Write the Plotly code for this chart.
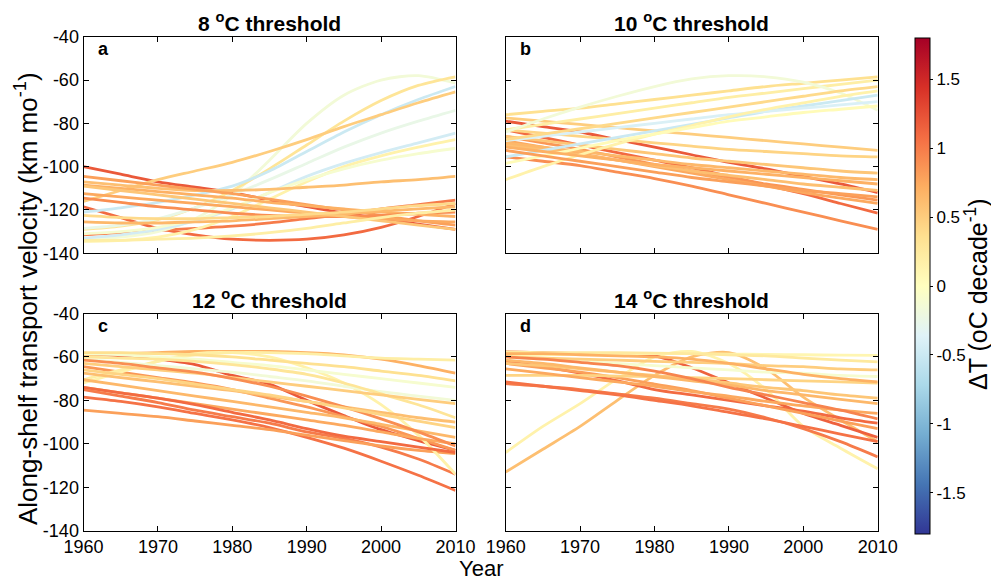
import plotly.graph_objects as go
from plotly.colors import sample_colorscale

# Model years sampled every 5 years
years = [1960, 1965, 1970, 1975, 1980, 1985, 1990, 1995, 2000, 2005, 2010]

# ---- 8 oC threshold: warming trend (oC/decade) and velocity (km/mo) ----
dT_8 = [1.2, 1.1, 1.0, -0.15, 0.3, -0.5, -0.45, 0.5, -0.25, 0.15,
        -0.1, 0.6, 0.8, 0.7, 0.75, 0.9, 0.65, 0.55, 0.4, 0.2]
vel_8 = [
    [-100, -103.5, -107, -109.5, -112, -115.5, -118.5, -121.5, -124, -126.5, -129],
    [-118.5, -123.5, -128.5, -131.5, -133.5, -134, -133.5, -131.5, -128, -123, -117],
    [-131.5, -130.5, -129.5, -128.5, -127.5, -126, -124, -122, -119.5, -117.5, -115.5],
    [-133.5, -132.5, -130, -124, -113, -97, -80, -67, -60, -58, -61.5],
    [-129, -127.5, -124.5, -119, -111, -101, -90, -79, -69.5, -62.5, -58.5],
    [-121, -119, -116.5, -113, -109, -102, -93, -84, -76, -69, -63],
    [-133, -131.5, -129, -125, -119.5, -112, -104.5, -98.5, -93.5, -89, -84.5],
    [-116, -111, -106, -102, -98, -93, -87.5, -81.5, -76, -70.5, -65.5],
    [-128.5, -127, -124, -119, -113, -106, -98.5, -91, -84.5, -79, -74],
    [-134.5, -134, -132.5, -129, -123, -115, -107, -100, -95, -91, -87.5],
    [-131, -130, -128, -124.5, -119, -112, -106, -101, -97, -94, -91.5],
    [-107, -108.5, -110, -111, -111, -110.5, -109.5, -108.5, -107, -106, -104.5],
    [-104.5, -106.5, -108.5, -110.5, -112.5, -115, -117.5, -120, -122.5, -125, -127],
    [-108.5, -110, -111.5, -113, -114.5, -116.5, -118, -119.5, -121, -122, -123],
    [-112.5, -114, -115.5, -117, -118.5, -120, -121.5, -123, -124, -125, -125.5],
    [-114.5, -116.5, -118.5, -120, -121.5, -122.5, -123, -123, -122.5, -121.5, -121],
    [-125.5, -126, -126, -125.5, -125, -124, -123, -122, -120.5, -119.5, -118.5],
    [-109, -111, -113, -115, -117, -119, -121, -123, -125, -127, -129],
    [-122.5, -123.5, -124, -124, -123.5, -123, -122, -121, -119.5, -118, -117],
    [-134, -134, -133.5, -133, -132, -130.5, -128.5, -126, -123.5, -121.5, -120],
]

# ---- 10 oC threshold ----
dT_10 = [1.2, 1.1, 0.9, 0.85, 0.75, 0.6, 0.5, 0.45, 0.55, 0.65,
         0.35, 0.2, -0.15, -0.5, -0.4, 0.15, 0.05, 0.4, 0.7, 0.8]
vel_10 = [
    [-79, -81.5, -84, -87.5, -91, -94.5, -98, -101, -104.5, -108, -112],
    [-83, -86.5, -90, -93.5, -97, -100.5, -104.5, -108.5, -112.5, -117, -121.5],
    [-95.5, -97.5, -99.5, -102.5, -105.5, -109, -113, -117, -121, -125, -129],
    [-86, -89, -92, -95.5, -99, -102, -105, -108, -110.5, -113, -115.5],
    [-88, -91, -94, -97, -100, -103, -106, -109, -112, -114.5, -117],
    [-90, -92, -94.5, -97, -99.5, -102, -104, -106, -108, -109.5, -111],
    [-77.5, -79, -80.5, -82, -83.5, -85, -86.5, -88, -89.5, -91, -92.5],
    [-83, -84.5, -86, -87.5, -89, -90.5, -92, -93, -94, -95, -95.5],
    [-86, -88, -90, -92, -94, -96, -97.5, -99, -100.5, -102, -103],
    [-89, -91, -93, -95, -97, -99, -100.5, -102, -103.5, -105, -106],
    [-76, -74.5, -73, -71, -69, -67, -65, -63, -61.5, -60, -58.5],
    [-83, -80.5, -78, -75.5, -73, -70.5, -68, -66, -64, -62, -60],
    [-84, -78, -72.5, -67.5, -63, -59.5, -58, -58.5, -61, -66, -74],
    [-95.5, -92.5, -89.5, -86.5, -83.5, -80.5, -77.5, -74.5, -72, -69.5, -67],
    [-88, -86, -84, -82, -80, -78, -76, -74.5, -73, -71.5, -70],
    [-106, -100, -94.5, -89.5, -85, -81, -77, -73.5, -70.5, -67.5, -65],
    [-98.5, -95, -91.5, -88, -85, -82, -79, -77, -75, -73.5, -72],
    [-87.5, -85, -82.5, -80, -77.5, -75, -72.5, -70, -67.5, -65, -63],
    [-91, -93, -95, -97, -99, -100.5, -102, -103.5, -105, -106.5, -108],
    [-92.5, -95, -97.5, -100, -102.5, -105, -107, -109, -111, -112.5, -114],
]

# ---- 12 oC threshold ----
dT_12 = [1.2, 1.05, 1.0, 0.8, 0.85, 0.7, 0.15, 0.2, -0.1, -0.15,
         0.3, 0.5, 0.6, 0.65, 0.75, 1.1, 0.9, 0.35, 0.45]
vel_12 = [
    [-58.5, -59.5, -61, -63.5, -68.5, -72.5, -80, -87, -93.5, -98.5, -103],
    [-78.5, -80.5, -83, -86, -89, -92.5, -97, -102, -108, -114.5, -121.5],
    [-75, -78, -81, -84.5, -87.5, -90.5, -94.5, -97.5, -101.5, -107, -114],
    [-84.5, -86, -87.5, -89.5, -91.5, -93.5, -96, -98.5, -101, -103, -104.5],
    [-64.5, -67, -69.5, -72, -75, -79, -83, -87.5, -92, -97.5, -103],
    [-59, -58.5, -58, -57.5, -57.5, -57.5, -58, -59, -61, -64, -67.5],
    [-72, -67, -62, -58.5, -58, -60, -65, -72, -82, -96, -114],
    [-70.5, -66, -62, -59, -58, -58, -58.5, -59.5, -60.5, -61, -61.5],
    [-58.5, -59, -60, -61, -62.5, -64, -66, -68, -70, -72, -74],
    [-61, -62.5, -64, -65.5, -67, -69, -71, -73.5, -76, -78, -80],
    [-60, -60.5, -61, -62, -63.5, -65.5, -68, -72, -77, -82, -88],
    [-63, -64.5, -66, -67.5, -69.5, -71.5, -73.5, -75.5, -77.5, -79.5, -81.5],
    [-67.5, -69.5, -71.5, -73.5, -75.5, -78, -80.5, -83, -85.5, -88, -90],
    [-70.5, -73, -75.5, -78, -80.5, -83, -85.5, -88, -91, -94, -97],
    [-74, -76.5, -79, -81.5, -84, -86.5, -89, -91.5, -94.5, -97.5, -100],
    [-74, -76.5, -79, -82, -85.5, -89, -93, -96.5, -99, -101.5, -104],
    [-61.5, -63, -65, -67, -70, -73.5, -78, -83, -88.5, -94.5, -101],
    [-58, -58, -58.5, -59, -60, -61.5, -63, -64.5, -66.5, -68.5, -71],
    [-66, -68, -70, -72.5, -75, -77.5, -80.5, -83.5, -86.5, -89.5, -92.5],
]

# ---- 14 oC threshold ----
dT_14 = [0.15, 0.6, 1.15, 1.1, 1.0, 1.05, 0.8, 0.1, 0.25, -0.1,
         0.45, 0.55, 0.65, 0.75, 0.5, 0.95, 0.7]
vel_14 = [
    [-104, -92, -81.5, -70, -60, -57.5, -63, -75, -92, -102, -111.5],
    [-113, -102.5, -92, -80, -68.5, -60, -58, -65.5, -78.5, -89, -99],
    [-57.7, -58, -58.5, -59, -59.5, -65, -72, -79, -86, -91.5, -97],
    [-62, -64.5, -67.5, -71, -75, -77.5, -80, -82.5, -85, -88, -90.5],
    [-72.3, -73.5, -75, -77, -79, -81.5, -84, -88, -93, -99, -106],
    [-71.5, -73.5, -75.5, -77.5, -80, -82.5, -85.5, -88.5, -92, -95.5, -99],
    [-63, -65, -67, -69.5, -72.5, -75.5, -79, -82.5, -86, -89.5, -93],
    [-59.2, -59, -58.8, -58.5, -58.5, -58.5, -58.7, -58.8, -59, -59.2, -59.3],
    [-57.7, -58, -58, -58, -58.2, -58.5, -59, -59.5, -60.5, -61.5, -62.3],
    [-60, -61, -62, -63, -64, -65, -66, -67, -67.5, -68.5, -69],
    [-68.5, -68.5, -68.5, -68.8, -69, -69.5, -70, -70.5, -71, -71.5, -72],
    [-63, -64, -65.5, -67, -68.5, -70, -72, -74, -75.5, -77.5, -79],
    [-61.5, -63, -65, -67, -69, -71, -73, -75.5, -77.5, -79.5, -81.5],
    [-65.5, -67.5, -69.5, -71.5, -73.5, -76, -78, -80.5, -82.5, -84.5, -86],
    [-60, -60.5, -61, -61.5, -62, -62.5, -63, -64, -64.5, -65.5, -66],
    [-60, -61, -62.5, -64, -66.5, -70, -74, -77.5, -81, -84.5, -88.5],
    [-58.5, -58.5, -59, -59.5, -60, -61, -63, -65.5, -68, -70, -71.5],
]

panel_titles = ["8 <sup>o</sup>C threshold", "10 <sup>o</sup>C threshold",
                "12 <sup>o</sup>C threshold", "14 <sup>o</sup>C threshold"]
panel_letters = ["a", "b", "c", "d"]
x_ticks = [1960, 1970, 1980, 1990, 2000, 2010]
y_ticks = [-140, -120, -100, -80, -60, -40]
cbar_ticks = [-1.5, -1, -0.5, 0, 0.5, 1, 1.5]

CMIN, CMAX = -1.8, 1.8
CSCALE = "RdYlBu_r"
FONT = "Liberation Sans, Arial, Helvetica, sans-serif"
W, H = 991, 582


def px_x(p):
    return p / W


def px_y(p):
    return 1 - p / H


def trend_color(v):
    return sample_colorscale(CSCALE, [(v - CMIN) / (CMAX - CMIN)])[0]


fig = go.Figure()

panels = [(dT_8, vel_8), (dT_10, vel_10), (dT_12, vel_12), (dT_14, vel_14)]
x_domains = [(83.5, 455.5), (505.7, 877.7)]
y_domains = [(36.7, 253.3), (313.5, 530.7)]

for i, (dts, vels) in enumerate(panels):
    ax = "" if i == 0 else str(i + 1)
    for dt, v in zip(dts, vels):
        fig.add_trace(go.Scatter(
            x=years, y=v, mode="lines",
            line=dict(color=trend_color(dt), width=2.8, shape="spline", smoothing=0.8),
            xaxis="x" + ax, yaxis="y" + ax, showlegend=False, hoverinfo="skip",
        ))

# helper trace that carries the colour bar
fig.add_trace(go.Scatter(
    x=[None], y=[None], mode="markers", showlegend=False, hoverinfo="skip",
    marker=dict(
        color=[0], colorscale=CSCALE, cmin=CMIN, cmax=CMAX, showscale=True,
        colorbar=dict(
            thickness=15, thicknessmode="pixels",
            len=(534 - 38) / H, lenmode="fraction",
            y=px_y(286), yanchor="middle",
            x=px_x(915), xanchor="left", xpad=0, ypad=0,
            outlinewidth=1, outlinecolor="black",
            ticks="outside", ticklen=3, tickcolor="black",
            tickvals=cbar_ticks,
            ticktext=[("%g" % t) for t in cbar_ticks],
            tickfont=dict(family=FONT, size=17, color="black"),
        ),
    ),
))

layout = dict(
    width=W, height=H,
    margin=dict(l=0, r=0, t=0, b=0, autoexpand=False),
    paper_bgcolor="white", plot_bgcolor="white",
    font=dict(family=FONT, color="black"),
    showlegend=False,
)

annotations = []
for i in range(4):
    r, c = divmod(i, 2)
    ax = "" if i == 0 else str(i + 1)
    xd = x_domains[c]
    yd = y_domains[r]
    layout["xaxis" + ax] = dict(
        domain=[px_x(xd[0]), px_x(xd[1])], range=[1960, 2010],
        anchor="y" + ax, tickvals=x_ticks,
        ticktext=[str(t) for t in x_ticks],
        showticklabels=(r == 1), automargin=False,
        ticks="inside", ticklen=5, tickcolor="black",
        showline=True, linecolor="black", linewidth=1, mirror="ticks",
        showgrid=False, zeroline=False,
        tickfont=dict(family=FONT, size=18, color="black"),
    )
    layout["yaxis" + ax] = dict(
        domain=[px_y(yd[1]), px_y(yd[0])], range=[-140, -40],
        anchor="x" + ax, tickvals=y_ticks,
        ticktext=[str(t) for t in y_ticks],
        showticklabels=(c == 0), automargin=False,
        ticks="inside", ticklen=5, tickcolor="black",
        showline=True, linecolor="black", linewidth=1, mirror="ticks",
        showgrid=False, zeroline=False,
        tickfont=dict(family=FONT, size=18, color="black"),
    )
    # panel title
    annotations.append(dict(
        text="<b>" + panel_titles[i] + "</b>", xref="paper", yref="paper",
        x=px_x((xd[0] + xd[1]) / 2), y=px_y(yd[0] - 15),
        xanchor="center", yanchor="middle", showarrow=False,
        font=dict(family=FONT, size=21, color="black"),
    ))
    # panel letter
    annotations.append(dict(
        text="<b>" + panel_letters[i] + "</b>", xref="paper", yref="paper",
        x=px_x(xd[0] + 12), y=px_y(yd[0] + 12),
        xanchor="left", yanchor="middle", showarrow=False,
        font=dict(family=FONT, size=18, color="black"),
    ))

annotations.append(dict(
    text="Along-shelf transport velocity (km mo<sup>-1</sup>)",
    xref="paper", yref="paper", x=px_x(26), y=px_y(299),
    xanchor="center", yanchor="middle", textangle=-90, showarrow=False,
    font=dict(family=FONT, size=26, color="black"),
))
annotations.append(dict(
    text="Year", xref="paper", yref="paper", x=px_x(481), y=px_y(568),
    xanchor="center", yanchor="middle", showarrow=False,
    font=dict(family=FONT, size=22, color="black"),
))
annotations.append(dict(
    text="\u0394T (oC decade<sup>-1</sup>)", xref="paper", yref="paper",
    x=px_x(976), y=px_y(294),
    xanchor="center", yanchor="middle", textangle=-90, showarrow=False,
    font=dict(family=FONT, size=25, color="black"),
))
layout["annotations"] = annotations

fig.update_layout(**layout)
fig.write_html("out.html")
